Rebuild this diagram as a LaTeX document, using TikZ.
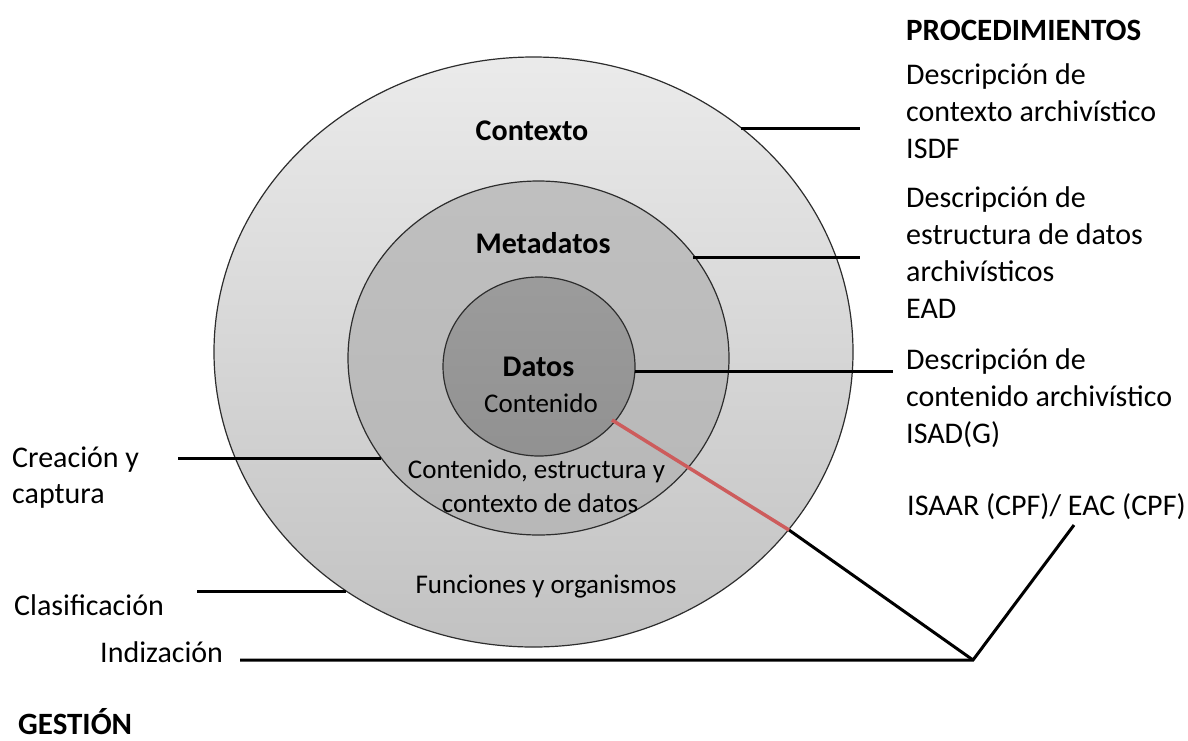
\documentclass[tikz,border=0pt]{standalone}
\usepackage{fontspec}
\setmainfont{Carlito}
\usetikzlibrary{shapes.geometric}
\definecolor{ringline}{RGB}{45,45,45}
\definecolor{redline}{RGB}{205,92,92}
\begin{document}
\begin{tikzpicture}[x=1pt,y=-1pt,
  ring/.style={ellipse, draw=ringline, line width=1.2pt, inner sep=0pt},
  conn/.style={line width=3pt, black},
  outlab/.style={anchor=base west, inner sep=0pt, font=\fontsize{30}{37}\selectfont},
  inlab/.style={anchor=base, inner sep=0pt, font=\fontsize{27}{34}\selectfont},
  boldlab/.style={anchor=base, inner sep=0pt, font=\fontsize{30}{37}\selectfont\bfseries},
  headlab/.style={anchor=base west, inner sep=0pt, font=\fontsize{31}{37}\selectfont\bfseries},
]
\fill[white] (0,0) rectangle (1188,740);
\useasboundingbox (0,0) rectangle (1188,740);

% rings
\node[ring, minimum width=639pt, minimum height=590pt, top color=black!8, bottom color=black!24] (ctx) at (533.5,352) {};
\node[ring, minimum width=381pt, minimum height=354pt, top color=black!25, bottom color=black!28] (meta) at (538.5,358) {};
\node[ring, minimum width=192pt, minimum height=179pt, top color=black!39, bottom color=black!43] (dat) at (539,366.5) {};

% texts in rings
\node[boldlab] (tctx) at (532,140) {Contexto};
\node[boldlab] (tmeta) at (543,253) {Metadatos};
\node[boldlab] (tdat) at (538.5,376) {Datos};
\node[inlab] (tcont) at (541,412) {Contenido};
\node[inlab] (tmeta1) at (536.5,478) {Contenido, estructura y};
\node[inlab] (tmeta2) at (540,512) {contexto de datos};
\node[inlab] (tfun) at (546,593) {Funciones y organismos};

% right column
\node[headlab] (proc) at (906,40) {PROCEDIMIENTOS};
\node[outlab] (r1a) at (906,84) {Descripción de};
\node[outlab] (r1b) at (906,121) {contexto archivístico};
\node[outlab] (r1c) at (906,158) {ISDF};
\node[outlab] (r2a) at (906,207) {Descripción de};
\node[outlab] (r2b) at (906,244) {estructura de datos};
\node[outlab] (r2c) at (906,281) {archivísticos};
\node[outlab] (r2d) at (906,318) {EAD};
\node[outlab] (r3a) at (906,369) {Descripción de};
\node[outlab] (r3b) at (906,406) {contenido archivístico};
\node[outlab] (r3c) at (906,443) {ISAD(G)};
\node[outlab] (r4) at (907,515) {ISAAR (CPF)/ EAC (CPF)};

% left column
\node[outlab] (l1a) at (12,467) {Creación y};
\node[outlab] (l1b) at (12,503) {captura};
\node[outlab] (l2) at (14,615) {Clasificación};
\node[outlab] (l3) at (100,662) {Indización};
\node[headlab] (gest) at (18,734) {GESTIÓN};

% connector end points
\coordinate (ctxA) at (741,128);
\coordinate (ctxAe) at (860,128);
\coordinate (metaA) at (693,257);
\coordinate (metaAe) at (860,257);
\coordinate (datA) at (635,371);
\coordinate (datAe) at (893,371);
\coordinate (creS) at (178,458);
\coordinate (metaL) at (381,458);
\coordinate (claS) at (197,591);
\coordinate (ctxL) at (346,591);
\coordinate (indS) at (240,660);
\coordinate (vert) at (973,660);
\coordinate (isaar) at (1074,525);
\coordinate (ctxB) at (789,530);
\coordinate (datB) at (612,420);

% connectors
\draw[conn] (ctxA) -- (ctxAe);
\draw[conn] (metaA) -- (metaAe);
\draw[conn] (datA) -- (datAe);
\draw[conn] (creS) -- (metaL);
\draw[conn] (claS) -- (ctxL);
\draw[conn, line join=miter] (indS) -- (vert) -- (isaar);
\draw[conn] (vert) -- (ctxB);
\draw[line width=3.5pt, redline] (ctxB) -- (datB);
\end{tikzpicture}
\end{document}
